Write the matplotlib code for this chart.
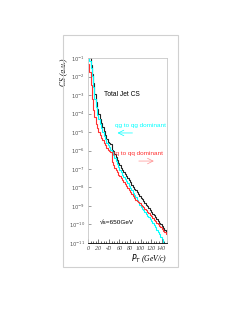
import numpy as np
import matplotlib.pyplot as plt
from matplotlib.patches import Rectangle

# bin edges in pT (GeV/c), 2.5 GeV bins
PT_EDGES = np.arange(0, 152.5, 2.5)

# log10 of cross section per bin
TOTAL_LOG = [-0.5, -0.9, -1.35, -1.85, -2.35, -2.95, -3.35, -3.75, -4.05, -4.3,
             -4.5, -4.75, -4.95, -5.15, -5.35, -5.55, -5.6, -5.65, -5.95, -6.05,
             -6.2, -6.35, -6.5, -6.65, -6.8, -6.93, -7.05, -7.17, -7.28, -7.4,
             -7.5, -7.62, -7.73, -7.85, -7.97, -8.07, -8.16, -8.26, -8.35, -8.45,
             -8.55, -8.64, -8.74, -8.84, -8.93, -9.03, -9.12, -9.22, -9.32, -9.41,
             -9.51, -9.6, -9.7, -9.8, -9.9, -9.99, -10.09, -10.18, -10.29, -10.4]
QG_LOG = [-0.8, -1.15, -1.55, -1.95, -2.55, -3.2, -3.65, -4.07, -4.3, -4.55,
          -4.77, -5.0, -5.2, -5.4, -5.58, -5.7, -5.83, -5.95, -6.1, -6.25,
          -6.42, -6.58, -6.74, -6.9, -7.05, -7.17, -7.3, -7.42, -7.54, -7.66,
          -7.78, -7.9, -8.01, -8.15, -8.28, -8.41, -8.54, -8.67, -8.8, -8.93,
          -9.05, -9.14, -9.24, -9.34, -9.43, -9.53, -9.62, -9.72, -9.82, -9.91,
          -10.01, -10.14, -10.28, -10.41, -10.54, -10.67, -10.8, -10.93, -11.05, -11.15]
QQ_LOG = [-1.3, -1.75, -2.45, -3.2, -3.8, -4.2, -4.55, -4.8, -5.0, -5.15,
          -5.3, -5.45, -5.6, -5.72, -5.85, -5.95, -6.05, -6.1, -6.6, -6.8,
          -6.95, -7.07, -7.18, -7.3, -7.4, -7.5, -7.62, -7.72, -7.83, -7.94,
          -8.05, -8.15, -8.25, -8.36, -8.47, -8.58, -8.67, -8.74, -8.8, -8.86,
          -8.93, -8.99, -9.07, -9.15, -9.24, -9.32, -9.4, -9.49, -9.57, -9.65,
          -9.74, -9.82, -9.9, -9.99, -10.07, -10.15, -10.24, -10.33, -10.42, -10.52]

X_TICKS = [0, 20, 40, 60, 80, 100, 120, 140]
Y_EXPONENTS = list(range(-11, 0))

SANS = "Liberation Sans"
SERIF = "Liberation Serif"


def step_line(ax, values, color):
    vals = 10.0 ** np.array(values)
    ax.stairs(vals, PT_EDGES, color=color, linewidth=0.8, baseline=None)


def main():
    fig = plt.figure(figsize=(2.49, 3.23), dpi=100)
    fig.patches.append(Rectangle((0.253, 0.173), 0.462, 0.718,
                                 transform=fig.transFigure, fill=False,
                                 edgecolor="#d0d0d0", linewidth=0.8))
    ax = fig.add_axes([0.353, 0.248, 0.317, 0.572])

    step_line(ax, TOTAL_LOG, "#222222")
    step_line(ax, QG_LOG, "cyan")
    step_line(ax, QQ_LOG, "#ff3030")

    ax.set_yscale("log")
    ax.set_xlim(0, 150)
    ax.set_ylim(1e-11, 1e-1)

    ax.set_xticks(X_TICKS)
    ax.set_xticklabels([str(t) for t in X_TICKS], fontsize=4.3,
                       family=SERIF, style="italic", color="#444444")
    ax.set_xticks(np.arange(0, 151, 5), minor=True)
    ax.set_yticks([10.0 ** e for e in Y_EXPONENTS])
    ax.set_yticklabels([r"$10^{%d}$" % e for e in Y_EXPONENTS], fontsize=3.8,
                       color="#444444")
    ax.yaxis.set_minor_locator(plt.NullLocator())
    ax.tick_params(axis="x", which="major", direction="in", length=3,
                   width=0.5, pad=2, colors="#444444")
    ax.tick_params(axis="x", which="minor", direction="in", length=1.5,
                   width=0.4)
    ax.tick_params(axis="y", which="major", direction="in", length=2,
                   width=0.4, pad=2, colors="#555555")
    for side in ["top", "right", "left"]:
        ax.spines[side].set_color("#c8c8c8")
        ax.spines[side].set_linewidth(0.6)
    ax.spines["bottom"].set_linewidth(0.6)

    ax.set_ylabel("CS (a.u.)", fontsize=5.5, family=SERIF,
                  style="italic", loc="top", labelpad=1)
    ax.set_xlabel(r"$P_T$ (GeV/c)", fontsize=5.5, family=SERIF,
                  style="italic", loc="right", labelpad=1)

    ax.text(0.21, 0.805, "Total Jet CS", transform=ax.transAxes,
            fontsize=4.8, color="black", family=SANS, va="center")
    ax.text(0.34, 0.638, "qg to qg dominant", transform=ax.transAxes,
            fontsize=4.6, color="cyan", family=SANS, va="center")
    ax.annotate("", xy=(0.34, 0.595), xytext=(0.6, 0.595),
                xycoords="axes fraction",
                arrowprops=dict(arrowstyle="->", color="cyan", lw=0.5))
    ax.text(0.30, 0.486, "qq to qq dominant", transform=ax.transAxes,
            fontsize=4.6, color="#ff3030", family=SANS, va="center")
    ax.annotate("", xy=(0.87, 0.443), xytext=(0.61, 0.443),
                xycoords="axes fraction",
                arrowprops=dict(arrowstyle="->", color="#ff9090", lw=0.5))
    ax.text(0.15, 0.108, "\u221as=650GeV", transform=ax.transAxes,
            fontsize=4.6, color="black", family=SANS, va="center")

    fig.savefig("out.png", dpi=100)


if __name__ == "__main__":
    main()
